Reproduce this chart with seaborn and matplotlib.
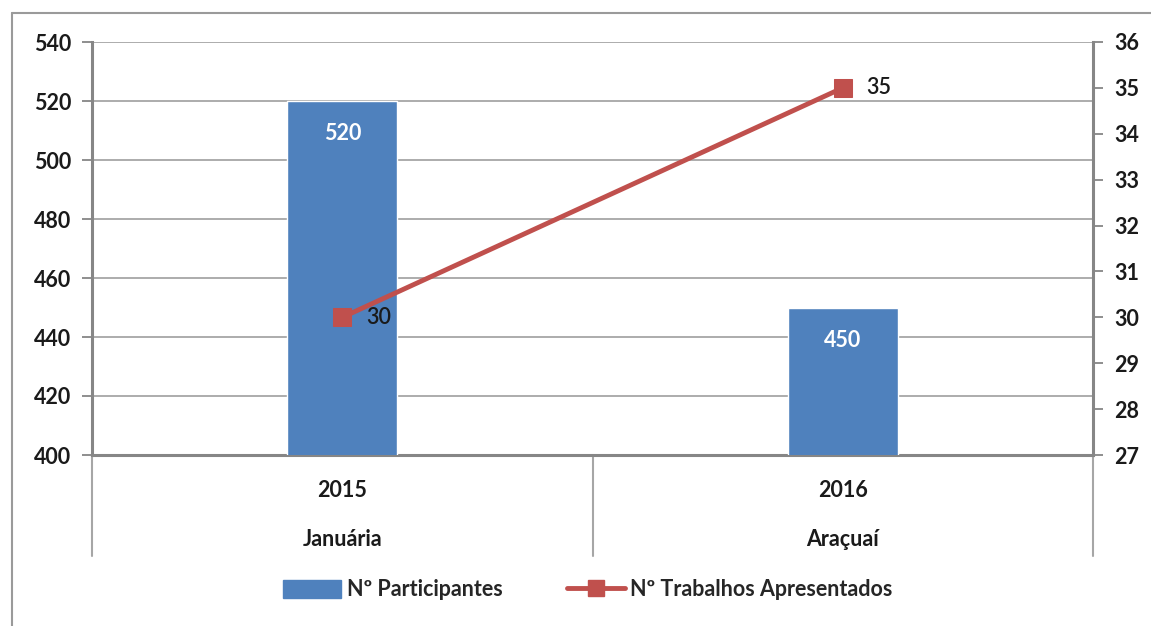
import matplotlib
matplotlib.use('Agg')
import matplotlib.pyplot as plt
import matplotlib.transforms as mtransforms
from matplotlib.lines import Line2D
from matplotlib.patches import Patch
import seaborn as sns

anos = ['2015', '2016']
cidades = ['Januária', 'Araçuaí']
participantes = [520, 450]
trabalhos = [30, 35]

azul = '#4F81BD'
vermelho = '#C0504D'
cinza = '#A6A6A6'
texto = '#1a1a1a'
fs = 15.5

sns.set_style('white')
plt.rcParams['font.family'] = ['Lato', 'DejaVu Sans']

fig = plt.figure(figsize=(11.51, 6.26), dpi=100)
ax = fig.add_axes([92 / 1151, 1 - 455 / 626, (1093 - 92) / 1151, (455 - 42) / 626])

# barras
sns.barplot(x=anos, y=participantes, ax=ax, color=azul, width=0.22, saturation=1, zorder=3)
ax.set_ylim(400, 540)
ax.set_xlim(-0.5, 1.5)
ax.set_yticks(range(400, 541, 20))
ax.yaxis.grid(True, color=cinza, linewidth=1.3, zorder=0)
ax.set_axisbelow(True)
ax.tick_params(axis='y', direction='out', length=7, width=1.3, color='#868686',
               labelsize=fs, labelcolor=texto, pad=8)
for lab in ax.get_yticklabels():
    lab.set_fontweight('bold')
ax.set_xticks([])
ax.set_xlabel('')
for s in ['top', 'right']:
    ax.spines[s].set_visible(False)
for s in ['left', 'bottom']:
    ax.spines[s].set_color('#868686')
    ax.spines[s].set_linewidth(2.2)

for i, v in enumerate(participantes):
    ax.annotate(str(v), (i, v), xytext=(0, -31), textcoords='offset points', ha='center',
                va='bottom', color='white', fontsize=fs, fontweight='bold', zorder=5)

# linha no eixo secundario
ax2 = ax.twinx()
sns.lineplot(x=range(len(anos)), y=trabalhos, ax=ax2, color=vermelho, linewidth=3.5,
             marker='s', markersize=13, markeredgecolor=vermelho, zorder=4)
ax2.set_ylim(27, 36)
ax2.set_xlim(-0.5, 1.5)
ax2.set_yticks(range(27, 37))
ax2.tick_params(axis='y', direction='out', length=7, width=1.3, color='#868686',
                labelsize=fs, labelcolor=texto, pad=8)
for lab in ax2.get_yticklabels():
    lab.set_fontweight('bold')
for s in ['top', 'left', 'bottom']:
    ax2.spines[s].set_visible(False)
ax2.spines['right'].set_color('#868686')
ax2.spines['right'].set_linewidth(2.2)
for i, v in enumerate(trabalhos):
    ax2.annotate(str(v), (i, v), xytext=(17, 0), textcoords='offset points', ha='left',
                 va='center', color=texto, fontsize=fs, fontweight='semibold', zorder=5)

# eixo de categorias em dois niveis
trans = mtransforms.blended_transform_factory(ax.transData, ax.transAxes)
for xs in [-0.5, 0.5, 1.5]:
    ax.add_line(Line2D([xs, xs], [0, -0.245], transform=trans, color=cinza,
                       linewidth=1.5, clip_on=False))
for i, (a, c) in enumerate(zip(anos, cidades)):
    ax.text(i, -0.085, a, transform=trans, ha='center', va='center', fontsize=fs,
            fontweight='bold', color=texto)
    ax.text(i, -0.205, c, transform=trans, ha='center', va='center', fontsize=fs,
            fontweight='bold', color=texto)

# legenda
handles = [Patch(facecolor=azul, edgecolor=azul),
           Line2D([0], [0], color=vermelho, linewidth=3.5, marker='s', markersize=12)]
fig.legend(handles, ['Nº Participantes', 'Nº Trabalhos Apresentados'], loc='center',
           bbox_to_anchor=(588 / 1151, 1 - 590 / 626), ncol=2, frameon=False,
           handlelength=2.7, handleheight=0.9, handletextpad=0.25, columnspacing=3.0,
           prop={'weight': 'bold', 'size': fs})

# moldura externa
fig.add_artist(Line2D([12 / 1151, 1], [1 - 13 / 626, 1 - 13 / 626], transform=fig.transFigure,
                      color='#9a9a9a', linewidth=1.5))
fig.add_artist(Line2D([12 / 1151, 12 / 1151], [0, 1 - 13 / 626], transform=fig.transFigure,
                      color='#9a9a9a', linewidth=1.5))

fig.savefig('out.png', dpi=100)
plt.close(fig)
